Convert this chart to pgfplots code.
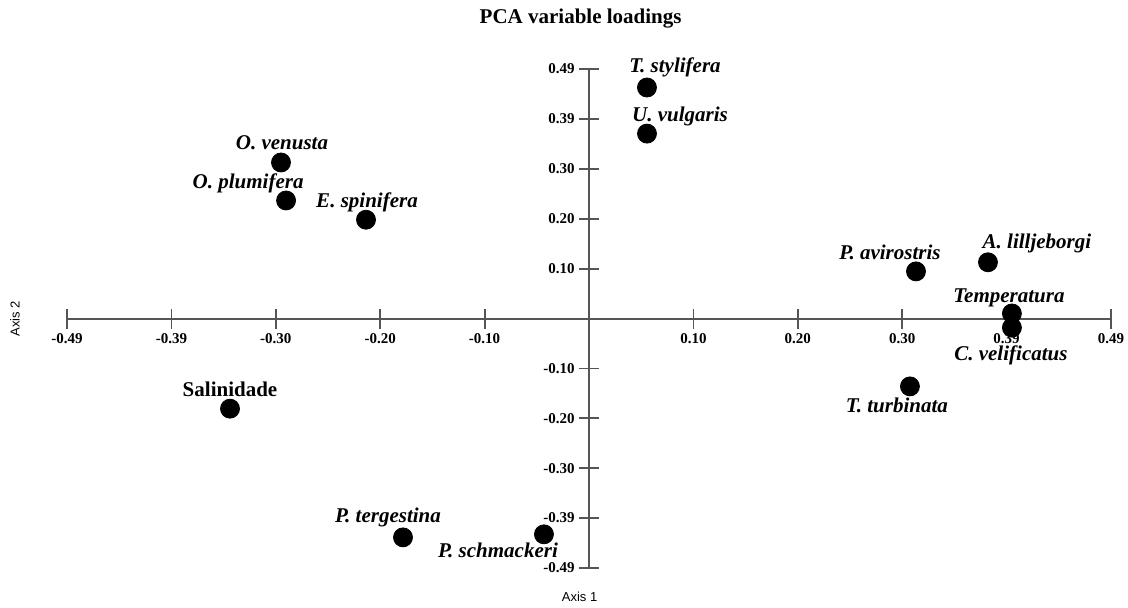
\documentclass[border=0pt]{standalone}
\usepackage{fontspec}
\setmainfont{Liberation Serif}
\newfontfamily\sansfont{Liberation Sans}
\usepackage{pgfplots}
\usepackage{pgfplotstable}
\pgfplotsset{compat=1.18}

% PCA loadings: coordinates on axes 1 and 2, label offsets (pt) and names
\pgfplotstableread[col sep=comma]{
x,y,dx,dy,name
0.0547,0.456,14,10,T. stylifera
0.0547,0.365,16.5,8.5,U. vulgaris
-0.2906,0.308,0.5,10,O. venusta
-0.2858,0.233,-19,8.5,O. plumifera
-0.2104,0.195,0.5,8.5,E. spinifera
0.3085,0.093,-13,9.5,P. avirostris
0.3764,0.111,24.5,9.5,A. lilljeborgi
0.3990,0.010,-1.5,8,Temperatura
0.3990,-0.018,-0.5,-14,C. velificatus
0.3028,-0.134,-6.5,-9.5,T. turbinata
-0.1755,-0.432,-7.5,10,P. tergestina
-0.0425,-0.426,-23,-8,P. schmackeri
}\loadings

\pgfplotstableread[col sep=comma]{
x,y,dx,dy,name
-0.3387,-0.178,0,9.5,Salinidade
}\salinity

\definecolor{axisgray}{RGB}{85,85,85}

\pgfplotsset{
  labelled loading/.style={
    only marks, mark=*, mark size=4.75pt, black,
    visualization depends on={\thisrow{dx} \as \labeldx},
    visualization depends on={\thisrow{dy} \as \labeldy},
    nodes near coords,
    point meta=explicit symbolic,
    every node near coord/.append style={anchor=center, inner sep=0pt,
      xshift=\labeldx pt, yshift=\labeldy pt, font=#1},
  },
}

\begin{document}
\begin{tikzpicture}
\path[use as bounding box] (0pt,0pt) rectangle (564pt,303.5pt);
\begin{axis}[
  at={(33.5pt,19.5pt)}, anchor=south west,
  scale only axis, width=522pt, height=249.5pt,
  xmin=-0.4925, xmax=0.4925, ymin=-0.4925, ymax=0.4925,
  axis lines=middle,
  axis line style={-, draw=axisgray, line width=1pt},
  every tick/.style={draw=axisgray, line width=0.9pt},
  tick align=center, major tick length=10pt,
  xtick={-0.4925,-0.394,-0.2955,-0.197,-0.0985,0.0985,0.197,0.2955,0.394,0.4925},
  xticklabels={-0.49,-0.39,-0.30,-0.20,-0.10,0.10,0.20,0.30,0.39,0.49},
  ytick={-0.4925,-0.394,-0.2955,-0.197,-0.0985,0.0985,0.197,0.2955,0.394,0.4925},
  yticklabels={-0.49,-0.39,-0.30,-0.20,-0.10,0.10,0.20,0.30,0.39,0.49},
  ticklabel style={font=\bfseries\fontsize{7.5}{8}\selectfont, inner sep=0pt},
  xticklabel style={anchor=base, yshift=-7.5pt},
  yticklabel style={anchor=east, xshift=-2pt},
  title={PCA variable loadings},
  title style={at={(axis description cs:0.492,1.078)}, anchor=center,
    font=\bfseries\fontsize{10.5}{12}\selectfont},
  xlabel={Axis 1}, ylabel={Axis 2},
  xlabel style={at={(axis description cs:0.491,-0.058)}, anchor=center,
    font=\sansfont\fontsize{6.5}{7}\selectfont},
  ylabel style={at={(axis description cs:-0.0498,0.5)}, anchor=center, rotate=90,
    font=\sansfont\fontsize{6.5}{7}\selectfont},
  clip=false,
]
\addplot[labelled loading={\bfseries\itshape\fontsize{10.5}{12}\selectfont}]
  table[x=x, y=y, meta=name] {\loadings};
\addplot[labelled loading={\bfseries\fontsize{10.5}{12}\selectfont}]
  table[x=x, y=y, meta=name] {\salinity};
\end{axis}
\end{tikzpicture}
\end{document}
